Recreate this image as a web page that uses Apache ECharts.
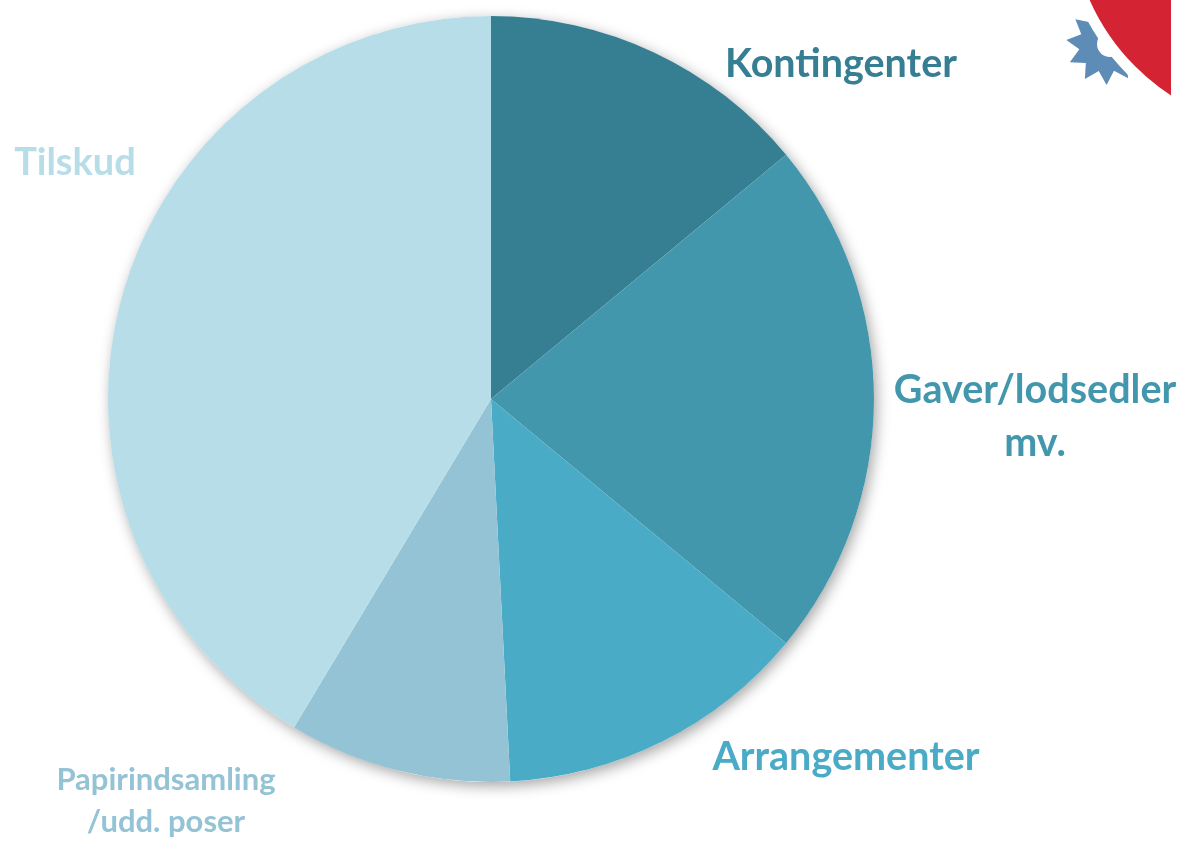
<!DOCTYPE html>
<html>
<head>
<meta charset="utf-8">
<title>Indtægter</title>
<script src="https://cdn.jsdelivr.net/npm/echarts@6/dist/echarts.min.js"></script>
<style>
  html, body { margin: 0; padding: 0; background: #fff; }
  #chart { width: 1185px; height: 841px; }
</style>
</head>
<body>
<div id="chart"></div>
<script>
  // andele i procent, med uret fra kl. 12
  var categories = ['Kontingenter', 'Gaver/lodsedler\nmv.', 'Arrangementer', 'Papirindsamling\n/udd. poser', 'Tilskud'];
  var shares = [14.0, 22.0, 13.2, 9.4, 41.4];
  var colors = ['#367f93', '#4397ad', '#4aabc6', '#93c3d4', '#b7dde8'];

  // hvor teksterne står (midtpunkt)
  var labelSpots = [[841, 64], [1035, 417], [846, 757], [166, 801], [75, 163]];
  var labelSizes = [39.5, 39.5, 39.5, 31, 38];

  var chart = echarts.init(document.getElementById('chart'));

  // logo-tandhjul oppe i hjørnet
  var gear = [];
  var teeth = 11;
  for (var i = 0; i < teeth * 2; i++) {
    var a = Math.PI * 2 * i / (teeth * 2) - Math.PI / 2 - 0.3;
    var r = i % 2 === 0 ? 40 : 27;
    gear.push([1106 + r * Math.cos(a), 45 + r * Math.sin(a)]);
  }

  var option = {
    backgroundColor: '#ffffff',
    animation: false,
    textStyle: { fontFamily: 'Lato, "Open Sans", sans-serif' },
    graphic: [
      { type: 'polygon', shape: { points: gear }, style: { fill: '#5d8db6' }, z: 1 },
      { type: 'circle', shape: { cx: 1110, cy: 44, r: 13 }, style: { fill: '#fff' }, z: 1 },
      { type: 'circle', shape: { cx: 1292, cy: -90, r: 227 }, style: { fill: '#d42434', stroke: '#fff', lineWidth: 11 }, z: 2 },
      { type: 'rect', shape: { x: 1171, y: 0, width: 20, height: 200 }, style: { fill: '#fff' }, z: 3 }
    ],
    series: [
      {
        // bare for skyggen under kagen
        type: 'pie',
        silent: true,
        center: [491, 399],
        radius: 383,
        z: 1,
        label: { show: false },
        itemStyle: {
          color: '#ffffff',
          shadowBlur: 14,
          shadowOffsetX: 3,
          shadowOffsetY: 4,
          shadowColor: 'rgba(0,0,0,0.35)'
        },
        data: [1]
      },
      {
        type: 'pie',
        center: [491, 399],
        radius: 383,
        startAngle: 90,
        clockwise: true,
        z: 2,
        label: {
          show: true,
          position: 'outside',
          overflow: 'none',
          fontWeight: 'bold',
          fontFamily: 'Lato, sans-serif'
        },
        labelLine: { show: false },
        labelLayout: function (p) {
          var s = labelSpots[p.dataIndex];
          return { x: s[0], y: s[1], align: 'center', verticalAlign: 'middle', draggable: false };
        },
        data: categories.map(function (name, i) {
          return {
            name: name,
            value: shares[i],
            itemStyle: { color: colors[i], borderWidth: 0 },
            label: {
              color: colors[i],
              fontSize: labelSizes[i],
              lineHeight: labelSizes[i] * 1.33,
              width: 400,
              overflow: 'none'
            }
          };
        })
      }
    ]
  };

  chart.setOption(option);
</script>
</body>
</html>
